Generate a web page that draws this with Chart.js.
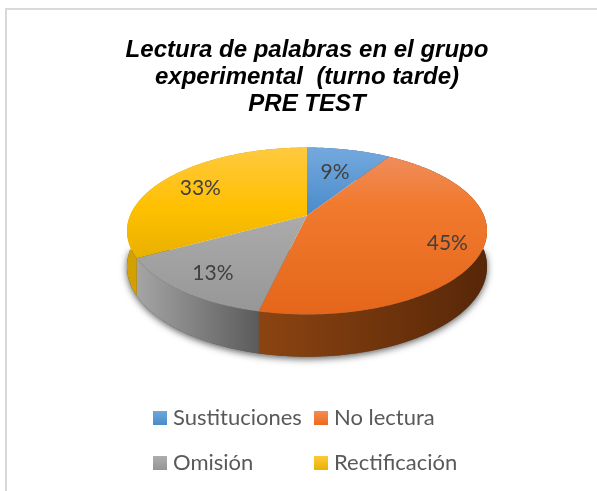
<!DOCTYPE html>
<html><head><meta charset="utf-8">
<script src="https://cdn.jsdelivr.net/npm/chart.js@4"></script>
<style>html,body{margin:0;padding:0;background:#fff}canvas{display:block}</style>
</head><body><canvas id="c" width="597" height="491"></canvas>
<script>
const categories = ['Sustituciones', 'No lectura', 'Omisión', 'Rectificación'];
const values = [9, 44.6, 13.4, 33];
const titleLines = ['Lectura de palabras en el grupo', 'experimental  (turno tarde)', 'PRE TEST'];
const labelReach = [0.63, 0.81, 0.78, 0.75];
const topColors = [['#74a9de', '#4a8bca'], ['#ef8d5c', '#e4661b'], ['#ababab', '#979797'], ['#ffc940', '#e8b000']];
const wallColors = [['#3d6d9c', '#2b5078'], ['#8c4411', '#572708'], ['#a5a5a5', '#5b5b5b'], ['#d3a000', '#c49400']];
const legendSwatches = [['#6fa6dc', '#4a8bca'], ['#f58c52', '#ec6b1e'], ['#adadad', '#959595'], ['#ffc83d', '#e9b200']];

const TILT = 0.1856, SQUASH = 80.6 / 176.9, DEPTH = 34.4;

function project(arc, angle, reach, drop) {
  const u = Math.cos(angle) * reach, v = Math.sin(angle) * reach;
  const w = 1 - TILT * v;
  return {
    x: arc.x + arc.outerRadius * u / w,
    y: arc.y + (arc.outerRadius * SQUASH * v + drop) / w
  };
}
function steps(a, b) {
  const n = Math.max(2, Math.ceil((b - a) / 0.01)), out = [];
  for (let i = 0; i <= n; i++) out.push(a + (b - a) * i / n);
  return out;
}

const pie3d = {
  id: 'pie3d',
  beforeDraw(chart) {
    const c = chart.ctx;
    c.save();
    c.fillStyle = '#d9d9d9';
    c.fillRect(5, 8, 592, 2);
    c.fillRect(5, 8, 2, 483);
    c.restore();
  },
  beforeDatasetDraw(chart) {
    const c = chart.ctx, arcs = chart.getDatasetMeta(0).data;
    const first = arcs[0];
    c.save();
    c.shadowColor = 'rgba(40,40,40,0.75)';
    c.shadowBlur = 7;
    c.shadowOffsetY = 2;
    c.fillStyle = '#555';
    c.beginPath();
    steps(0, Math.PI).forEach((a, i) => {
      const p = project(first, a, 1, DEPTH);
      i ? c.lineTo(p.x, p.y) : c.moveTo(p.x, p.y);
    });
    c.closePath();
    c.fill();
    c.restore();

    arcs.forEach((arc, i) => {
      const as = steps(arc.startAngle, arc.endAngle);
      const xs = as.map(a => project(arc, a, 1, 0).x);
      const g = c.createLinearGradient(Math.min(...xs), 0, Math.max(...xs), 0);
      g.addColorStop(0, wallColors[i][0]);
      g.addColorStop(1, wallColors[i][1]);
      c.fillStyle = g;
      c.beginPath();
      as.forEach((a, k) => {
        const p = project(arc, a, 1, 0);
        k ? c.lineTo(p.x, p.y) : c.moveTo(p.x, p.y);
      });
      as.slice().reverse().forEach(a => {
        const p = project(arc, a, 1, DEPTH);
        c.lineTo(p.x, p.y);
      });
      c.closePath();
      c.fill();
    });

    arcs.forEach((arc, i) => {
      const as = steps(arc.startAngle, arc.endAngle);
      const pts = as.map(a => project(arc, a, 1, 0));
      const ys = pts.map(p => p.y).concat(arc.y);
      const g = c.createLinearGradient(0, Math.min(...ys), 0, Math.max(...ys));
      g.addColorStop(0, topColors[i][0]);
      if (i === 1) g.addColorStop(0.3, '#f17a2e');
      if (i === 3) g.addColorStop(0.55, '#ffc000');
      g.addColorStop(1, topColors[i][1]);
      c.fillStyle = g;
      c.beginPath();
      c.moveTo(arc.x, arc.y);
      pts.forEach(p => c.lineTo(p.x, p.y));
      c.closePath();
      c.fill();
    });

    const total = values.reduce((s, v) => s + v, 0);
    c.save();
    c.font = '21px Lato';
    c.fillStyle = '#404040';
    c.textAlign = 'center';
    c.textBaseline = 'middle';
    arcs.forEach((arc, i) => {
      const p = project(arc, (arc.startAngle + arc.endAngle) / 2, labelReach[i], 0);
      c.fillText(Math.round(values[i] / total * 100) + '%', p.x, p.y + 1);
    });
    c.restore();

    const cols = [153, 314], rows = [418, 463];
    c.save();
    c.font = '22px Lato';
    c.textAlign = 'left';
    c.textBaseline = 'middle';
    categories.forEach((name, i) => {
      const x = cols[i % 2], y = rows[Math.floor(i / 2)];
      const g = c.createLinearGradient(0, y - 7, 0, y + 7);
      g.addColorStop(0, legendSwatches[i][0]);
      g.addColorStop(1, legendSwatches[i][1]);
      c.fillStyle = g;
      c.fillRect(x, y - 7, 14, 14);
      c.fillStyle = '#595959';
      c.fillText(name, x + 20, y);
    });
    c.restore();
    return false;
  }
};

new Chart(document.getElementById('c'), {
  type: 'pie',
  data: { labels: categories, datasets: [{ data: values, radius: 176.9, borderWidth: 0, backgroundColor: legendSwatches.map(s => s[0]) }] },
  options: {
    responsive: false,
    animation: false,
    layout: { padding: { left: 17, top: 0, bottom: 188 } },
    plugins: {
      legend: { display: false },
      tooltip: { enabled: false },
      title: {
        display: true,
        text: titleLines,
        color: '#000',
        font: { family: '"Liberation Sans"', size: 24, weight: 'bold', style: 'italic', lineHeight: 1.125 },
        padding: { top: 37, bottom: 10 }
      }
    }
  },
  plugins: [pie3d]
});
</script></body></html>
